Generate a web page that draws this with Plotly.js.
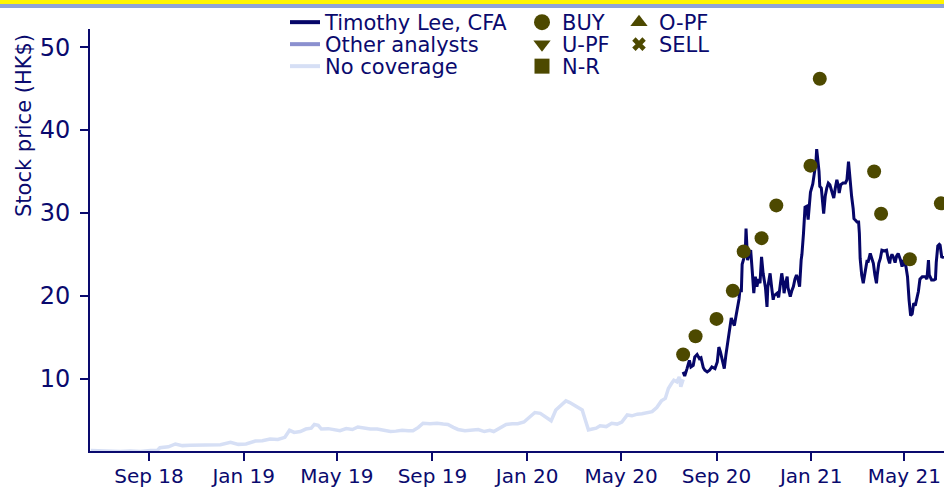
<!DOCTYPE html>
<html>
<head>
<meta charset="utf-8">
<script src="https://cdn.plot.ly/plotly-3.0.1.min.js"></script>
<style>
  html, body { margin: 0; padding: 0; background: #ffffff; }
  #wrap { position: relative; width: 944px; height: 489px; overflow: hidden; }
  #chart { position: absolute; left: 0; top: 0; width: 944px; height: 489px; }
  .band { position: absolute; left: 0; width: 944px; }
</style>
</head>
<body>
<div id="wrap">
  <div id="chart"></div>
  <div class="band" style="top:0;height:4px;background:#fff500;"></div>
  <div class="band" style="top:4px;height:4px;background:#8fa3d6;"></div>
</div>
<script>
// ---- data ----
const noCoverageDates = [
  '2018-06-18','2018-06-30','2018-07-13','2018-07-26','2018-08-08','2018-08-21','2018-09-03','2018-09-12',
  '2018-09-15','2018-09-26','2018-10-05','2018-10-14','2018-10-24','2018-11-06','2018-11-19','2018-12-02',
  '2018-12-15','2018-12-25','2019-01-04','2019-01-16','2019-01-25','2019-02-04','2019-02-14','2019-02-23',
  '2019-03-01','2019-03-07','2019-03-15','2019-03-22','2019-03-29','2019-04-02','2019-04-07','2019-04-11',
  '2019-04-20','2019-04-27','2019-05-05','2019-05-13','2019-05-21','2019-05-28','2019-06-05','2019-06-13',
  '2019-06-22','2019-07-01','2019-07-09','2019-07-16','2019-07-24','2019-08-01','2019-08-07','2019-08-14',
  '2019-08-20','2019-08-29','2019-09-07','2019-09-15','2019-09-21','2019-09-28','2019-10-04','2019-10-13',
  '2019-10-22','2019-10-30','2019-11-07','2019-11-14','2019-11-19','2019-11-27','2019-12-05','2019-12-13',
  '2019-12-20','2019-12-28','2020-01-05','2020-01-11','2020-01-18','2020-01-25','2020-02-01','2020-02-07',
  '2020-02-14','2020-02-20','2020-02-25','2020-03-02','2020-03-08','2020-03-12','2020-03-16','2020-03-20',
  '2020-03-25','2020-03-30','2020-04-04','2020-04-12','2020-04-19','2020-04-26','2020-05-02','2020-05-09',
  '2020-05-15','2020-05-22','2020-05-28','2020-06-04','2020-06-10','2020-06-16','2020-06-22','2020-06-27',
  '2020-07-01','2020-07-05','2020-07-08','2020-07-12','2020-07-15','2020-07-17','2020-07-20'
];
const noCoveragePrice = [
  1.3,1.25,1.2,1.2,1.25,1.2,1.3,1.35,
  1.65,1.75,2.1,1.9,1.95,2.0,1.95,2.0,
  2.3,2.05,2.1,2.45,2.5,2.7,2.65,2.9,
  3.75,3.5,3.6,3.9,4.0,4.45,4.35,3.9,
  3.95,3.85,3.7,3.95,3.85,4.15,4.0,3.9,
  3.9,3.75,3.6,3.65,3.75,3.7,3.7,4.1,
  4.6,4.55,4.6,4.5,4.45,4.1,3.85,3.7,
  3.75,3.85,3.6,3.75,3.6,4.0,4.45,4.55,
  4.55,4.75,5.4,5.9,5.8,5.3,4.9,6.2,
  6.8,7.3,7.1,6.8,6.5,6.2,5.0,3.8,
  3.9,4.0,4.3,4.2,4.6,4.5,4.75,5.6,
  5.5,5.7,5.75,5.85,6.0,6.5,7.3,7.6,
  8.8,9.4,9.8,9.6,10.2,9.0,9.9
];

const leeDates = [
  '2020-07-20','2020-07-22','2020-07-25','2020-07-28','2020-07-30','2020-08-02','2020-08-04','2020-08-07',
  '2020-08-10','2020-08-12','2020-08-15','2020-08-17','2020-08-20','2020-08-23','2020-08-26','2020-08-30',
  '2020-09-02','2020-09-04','2020-09-06','2020-09-08','2020-09-11','2020-09-13','2020-09-15','2020-09-17',
  '2020-09-20','2020-09-22','2020-09-24','2020-09-26','2020-09-28','2020-09-30','2020-10-01','2020-10-03',
  '2020-10-04','2020-10-06','2020-10-08','2020-10-09','2020-10-11','2020-10-13','2020-10-15','2020-10-17',
  '2020-10-19','2020-10-21','2020-10-23','2020-10-25','2020-10-27','2020-10-29','2020-10-31','2020-11-03',
  '2020-11-05','2020-11-06','2020-11-09','2020-11-11','2020-11-13','2020-11-14','2020-11-18','2020-11-20',
  '2020-11-22','2020-11-24','2020-11-26','2020-11-27','2020-11-29','2020-12-01','2020-12-02','2020-12-05',
  '2020-12-07','2020-12-09','2020-12-11','2020-12-13','2020-12-15','2020-12-17','2020-12-19','2020-12-20',
  '2020-12-22','2020-12-24','2020-12-26','2020-12-28','2020-12-31','2021-01-03','2021-01-05','2021-01-07',
  '2021-01-08','2021-01-09','2021-01-10','2021-01-11','2021-01-12','2021-01-14','2021-01-17','2021-01-19',
  '2021-01-21','2021-01-23','2021-01-25','2021-01-27','2021-01-30','2021-02-01','2021-02-03','2021-02-05',
  '2021-02-06','2021-02-08','2021-02-11','2021-02-14','2021-02-16','2021-02-18','2021-02-19','2021-02-20',
  '2021-02-22','2021-02-24','2021-02-25','2021-02-27','2021-03-01','2021-03-03','2021-03-04','2021-03-05',
  '2021-03-07','2021-03-09','2021-03-11','2021-03-14','2021-03-15','2021-03-18','2021-03-20','2021-03-22',
  '2021-03-24','2021-03-26','2021-03-27','2021-03-29','2021-03-31','2021-04-02','2021-04-05','2021-04-08',
  '2021-04-10','2021-04-12','2021-04-13','2021-04-15','2021-04-17','2021-04-19','2021-04-21','2021-04-23',
  '2021-04-26','2021-04-28','2021-04-29','2021-05-01','2021-05-03','2021-05-05','2021-05-07','2021-05-09',
  '2021-05-11','2021-05-13','2021-05-15','2021-05-17','2021-05-19','2021-05-21','2021-05-24','2021-05-28',
  '2021-05-30','2021-06-01','2021-06-02','2021-06-05','2021-06-08','2021-06-10','2021-06-11','2021-06-13',
  '2021-06-15','2021-06-16','2021-06-18','2021-06-21'
];
const leePrice = [
  10.8,10.3,11.2,12.2,11.4,11.6,12.6,12.9,
  12.4,12.5,11.3,11.0,10.8,11.0,11.4,11.2,
  12.0,13.8,13.2,12.4,11.2,12.8,14.0,15.5,
  17.3,16.8,16.4,17.5,18.5,19.6,20.6,20.6,
  23.8,24.5,25.1,28.1,24.3,25.0,25.5,23.0,
  20.3,22.3,21.1,22.0,21.5,24.7,22.7,21.0,
  18.65,21.0,22.7,21.0,19.5,20.0,20.3,19.8,
  21.0,22.7,21.5,20.3,21.5,22.3,21.0,19.9,
  20.6,21.1,22.0,22.5,22.0,21.1,24.3,25.0,
  27.5,30.7,30.8,29.2,32.5,33.5,34.8,36.0,
  37.7,36.9,36.4,35.0,33.2,33.0,29.9,32.0,
  33.0,33.6,33.4,32.6,31.8,33.0,34.0,33.2,
  32.4,33.4,33.6,33.6,34.0,36.2,35.0,33.6,
  32.0,30.5,29.3,29.1,28.9,28.9,27.5,24.5,
  22.5,21.5,22.8,24.3,24.0,25.1,24.5,23.9,
  22.5,21.5,22.5,23.9,24.5,25.5,25.4,25.5,
  24.5,23.9,24.5,25.0,24.6,24.0,24.8,25.1,
  24.3,23.5,24.3,24.0,23.5,22.3,19.5,17.6,
  17.8,19.1,18.8,19.5,20.5,22.0,22.3,22.3,
  22.0,24.3,22.5,21.9,21.9,22.0,24.0,26.0,
  26.2,26.1,24.7,24.6
];

const buyDates = ['2020-07-20','2020-08-05','2020-09-01','2020-09-22','2020-10-06','2020-10-29','2020-11-17',
                  '2020-12-31','2021-01-12','2021-03-23','2021-04-01','2021-05-08','2021-06-17'];
const buyTarget = [12.9,15.1,17.2,20.6,25.35,26.95,30.9,35.7,46.2,35.0,29.9,24.4,31.15];

const lineLegendNames = ['Timothy Lee, CFA','Other analysts','No coverage'];
const ratingLegendNames = ['BUY','U-PF','N-R','O-PF','SELL'];

// ---- styles ----
const NAVY = '#0a0a6e';
const C_LEE = '#060668';
const C_OTHER = '#8b90cf';
const C_NONE = '#d6dff5';
const C_RATING = '#4d4900';
const FONT = 'DejaVu Sans, Verdana, sans-serif';

const traces = [
  { x: noCoverageDates, y: noCoveragePrice, type: 'scatter', mode: 'lines',
    line: { color: C_NONE, width: 3.5 }, showlegend: false, hoverinfo: 'skip' },
  { x: leeDates, y: leePrice, type: 'scatter', mode: 'lines',
    line: { color: C_LEE, width: 3 }, showlegend: false, hoverinfo: 'skip' },
  { x: buyDates, y: buyTarget, type: 'scatter', mode: 'markers',
    marker: { color: C_RATING, size: 14, symbol: 'circle' }, showlegend: false, hoverinfo: 'skip' }
];

// legend-only entries, one legend each so they can be laid out as a grid
const lineColors = [C_LEE, C_OTHER, C_NONE];
const ratingSymbols = ['circle','triangle-down','square','triangle-up','x'];
const ratingSizes = [16, 15, 15, 15, 12];

const legendLayouts = {};
const rowTop = [2, 24, 46];
const colX = [285, 522, 619];
let li = 1;
function addLegend(trace, col, row) {
  const key = li === 1 ? 'legend' : 'legend' + li;
  trace.legend = key;
  legendLayouts[key] = {
    xref: 'container', yref: 'container',
    x: colX[col] / 944, y: 1 - rowTop[row] / 489,
    xanchor: 'left', yanchor: 'top',
    bgcolor: 'rgba(0,0,0,0)', borderwidth: 0,
    font: { family: FONT, size: 21, color: NAVY }
  };
  traces.push(trace);
  li++;
}
lineLegendNames.forEach((n, i) => {
  addLegend({ x: [null], y: [null], type: 'scatter', mode: 'lines', name: n,
              line: { color: lineColors[i], width: 4 } }, 0, i);
});
const ratingPos = [[1,0],[1,1],[1,2],[2,0],[2,1]];
ratingLegendNames.forEach((n, i) => {
  addLegend({ x: [null], y: [null], type: 'scatter', mode: 'markers', name: n,
              marker: { color: C_RATING, size: ratingSizes[i], symbol: ratingSymbols[i] } },
            ratingPos[i][0], ratingPos[i][1]);
});

const layout = Object.assign({
  width: 944, height: 489,
  margin: { l: 90, r: 0, t: 29, b: 38, pad: 0, autoexpand: false },
  paper_bgcolor: '#ffffff', plot_bgcolor: '#ffffff',
  font: { family: FONT, color: NAVY },
  showlegend: true,
  xaxis: {
    type: 'date', range: ['2018-06-17', '2021-06-21'],
    tick0: '2018-09-01', dtick: 'M4', tickformat: '%b %y',
    showgrid: false, zeroline: false, automargin: false,
    showline: true, linecolor: NAVY, linewidth: 2,
    ticks: 'outside', ticklen: 8, tickwidth: 2, tickcolor: NAVY,
    ticklabelstandoff: -2,
    tickfont: { family: FONT, size: 20, color: NAVY }
  },
  yaxis: {
    range: [1.25, 52.2], tick0: 0, dtick: 10,
    showgrid: false, zeroline: false, automargin: false,
    showline: true, linecolor: NAVY, linewidth: 2,
    ticks: 'outside', ticklen: 8, tickwidth: 2, tickcolor: NAVY,
    ticklabelstandoff: 5,
    tickfont: { family: FONT, size: 24, color: NAVY }
  },
  annotations: [{
    text: 'Stock price (HK$)', xref: 'paper', yref: 'paper',
    x: -0.0773, y: 0.7725, xanchor: 'center', yanchor: 'middle',
    textangle: -90, showarrow: false,
    font: { family: FONT, size: 21, color: NAVY }
  }]
}, legendLayouts);

Plotly.newPlot('chart', traces, layout, { staticPlot: true, displayModeBar: false });
</script>
</body>
</html>
